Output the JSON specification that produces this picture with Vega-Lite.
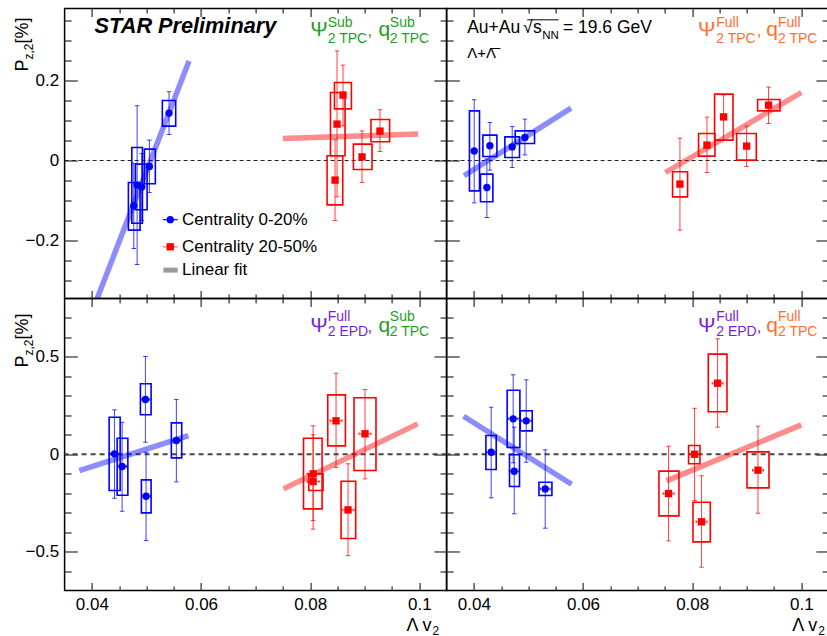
{
"$schema": "https://vega.github.io/schema/vega-lite/v6.json",
"padding": {"left": 12.6, "top": 6.5, "right": 0, "bottom": 0},
"config": {"font": "Liberation Sans", "view": {"stroke": "black", "strokeWidth": 1.5}, "legend": {"disable": true},
  "axis": {"disable": true, "grid": false, "domain": false, "tickColor": "black", "tickWidth": 1, "labelFont": "Liberation Sans", "labelFontSize": 17, "labelColor": "black"}},
"datasets": {
"pts": [
{"p":"TL","cent":"0-20%","x":0.04768,"y":-0.113,"ylo":-0.22,"yhi":-0.007,"slo":-0.174,"shi":-0.055,"bx0":0.04669,"bx1":0.04883},
{"p":"TL","cent":"0-20%","x":0.04829,"y":-0.0615,"ylo":-0.26,"yhi":0.137,"slo":-0.157,"shi":0.0325,"bx0":0.04732,"bx1":0.04926},
{"p":"TL","cent":"0-20%","x":0.04915,"y":-0.066,"ylo":-0.15,"yhi":0.0175,"slo":-0.123,"shi":-0.009,"bx0":0.04798,"bx1":0.05012},
{"p":"TL","cent":"0-20%","x":0.05054,"y":-0.015,"ylo":-0.08,"yhi":0.051,"slo":-0.058,"shi":0.0285,"bx0":0.04962,"bx1":0.05163},
{"p":"TL","cent":"0-20%","x":0.05414,"y":0.1185,"ylo":0.065,"yhi":0.172,"slo":0.086,"shi":0.15,"bx0":0.05291,"bx1":0.05536},
{"p":"TL","cent":"20-50%","x":0.08602,"y":0.1635,"ylo":0.0868,"yhi":0.2385,"slo":0.129,"shi":0.195,"bx0":0.08445,"bx1":0.08756},
{"p":"TL","cent":"20-50%","x":0.08492,"y":0.091,"ylo":-0.091,"yhi":0.274,"slo":0.012,"shi":0.17,"bx0":0.08372,"bx1":0.08639},
{"p":"TL","cent":"20-50%","x":0.08456,"y":-0.049,"ylo":-0.15,"yhi":0.052,"slo":-0.111,"shi":0.012,"bx0":0.0831,"bx1":0.08597},
{"p":"TL","cent":"20-50%","x":0.0895,"y":0.009,"ylo":-0.055,"yhi":0.074,"slo":-0.0225,"shi":0.041,"bx0":0.08792,"bx1":0.09133},
{"p":"TL","cent":"20-50%","x":0.09279,"y":0.0735,"ylo":0.0225,"yhi":0.127,"slo":0.0468,"shi":0.1025,"bx0":0.09114,"bx1":0.09456},
{"p":"TR","cent":"0-20%","x":0.04006,"y":0.024,"ylo":-0.106,"yhi":0.152,"slo":-0.076,"shi":0.124,"bx0":0.03919,"bx1":0.04103},
{"p":"TR","cent":"0-20%","x":0.04238,"y":-0.0675,"ylo":-0.1425,"yhi":0.0035,"slo":-0.103,"shi":-0.034,"bx0":0.04121,"bx1":0.04348},
{"p":"TR","cent":"0-20%","x":0.04293,"y":0.037,"ylo":-0.024,"yhi":0.095,"slo":0.01,"shi":0.0635,"bx0":0.04165,"bx1":0.04422},
{"p":"TR","cent":"0-20%","x":0.04702,"y":0.034,"ylo":-0.0175,"yhi":0.085,"slo":0.0075,"shi":0.059,"bx0":0.04568,"bx1":0.04836},
{"p":"TR","cent":"0-20%","x":0.04935,"y":0.0575,"ylo":0.014,"yhi":0.1035,"slo":0.0425,"shi":0.074,"bx0":0.04757,"bx1":0.05111},
{"p":"TR","cent":"20-50%","x":0.07776,"y":-0.059,"ylo":-0.174,"yhi":0.056,"slo":-0.091,"shi":-0.028,"bx0":0.07641,"bx1":0.07916},
{"p":"TR","cent":"20-50%","x":0.08271,"y":0.0385,"ylo":-0.03,"yhi":0.1085,"slo":0.011,"shi":0.0675,"bx0":0.08117,"bx1":0.08418},
{"p":"TR","cent":"20-50%","x":0.08576,"y":0.109,"ylo":0.051,"yhi":0.164,"slo":0.051,"shi":0.166,"bx0":0.08411,"bx1":0.08748},
{"p":"TR","cent":"20-50%","x":0.08998,"y":0.036,"ylo":-0.015,"yhi":0.086,"slo":0.001,"shi":0.0675,"bx0":0.08814,"bx1":0.09175},
{"p":"TR","cent":"20-50%","x":0.094,"y":0.1385,"ylo":0.0925,"yhi":0.1835,"slo":0.124,"shi":0.1525,"bx0":0.09199,"bx1":0.0961},
{"p":"BL","cent":"0-20%","x":0.04413,"y":0.002,"ylo":-0.226,"yhi":0.228,"slo":-0.1865,"shi":0.19,"bx0":0.04316,"bx1":0.04518,"xlo":0.04333,"xhi":0.04493},
{"p":"BL","cent":"0-20%","x":0.04554,"y":-0.063,"ylo":-0.293,"yhi":0.164,"slo":-0.211,"shi":0.082,"bx0":0.04463,"bx1":0.04659,"xlo":0.04474,"xhi":0.04634},
{"p":"BL","cent":"0-20%","x":0.04981,"y":0.281,"ylo":0.0617,"yhi":0.502,"slo":0.2025,"shi":0.362,"bx0":0.04889,"bx1":0.05085,"xlo":0.04901,"xhi":0.05061},
{"p":"BL","cent":"0-20%","x":0.04993,"y":-0.216,"ylo":-0.4435,"yhi":0.01,"slo":-0.301,"shi":-0.1316,"bx0":0.04907,"bx1":0.05085,"xlo":0.04913,"xhi":0.05073},
{"p":"BL","cent":"0-20%","x":0.05548,"y":0.0704,"ylo":-0.142,"yhi":0.281,"slo":-0.0185,"shi":0.161,"bx0":0.05456,"bx1":0.05646,"xlo":0.05468,"xhi":0.05628},
{"p":"BL","cent":"20-50%","x":0.08054,"y":-0.1007,"ylo":-0.341,"yhi":0.1,"slo":-0.2806,"shi":0.082,"bx0":0.07878,"bx1":0.08218,"xlo":0.07944,"xhi":0.08164},
{"p":"BL","cent":"20-50%","x":0.08054,"y":-0.14,"ylo":-0.385,"yhi":0.146,"slo":-0.1865,"shi":-0.1007,"bx0":0.07975,"bx1":0.08236,"xlo":0.07944,"xhi":0.08164},
{"p":"BL","cent":"20-50%","x":0.08474,"y":0.1716,"ylo":-0.068,"yhi":0.416,"slo":0.043,"shi":0.305,"bx0":0.08322,"bx1":0.08646,"xlo":0.08364,"xhi":0.08584},
{"p":"BL","cent":"20-50%","x":0.08694,"y":-0.286,"ylo":-0.521,"yhi":-0.049,"slo":-0.433,"shi":-0.139,"bx0":0.08566,"bx1":0.08834,"xlo":0.08584,"xhi":0.08804},
{"p":"BL","cent":"20-50%","x":0.09005,"y":0.105,"ylo":-0.1264,"yhi":0.3325,"slo":-0.0838,"shi":0.29,"bx0":0.08803,"bx1":0.09206,"xlo":0.08895,"xhi":0.09115},
{"p":"BR","cent":"0-20%","x":0.04317,"y":0.0103,"ylo":-0.224,"yhi":0.2415,"slo":-0.0786,"shi":0.096,"bx0":0.0422,"bx1":0.04409,"xlo":0.04227,"xhi":0.04407},
{"p":"BR","cent":"0-20%","x":0.0472,"y":0.182,"ylo":-0.044,"yhi":0.408,"slo":0.0344,"shi":0.329,"bx0":0.0461,"bx1":0.04843,"xlo":0.0463,"xhi":0.0481},
{"p":"BR","cent":"0-20%","x":0.04739,"y":-0.0874,"ylo":-0.306,"yhi":0.139,"slo":-0.166,"shi":-0.003,"bx0":0.04653,"bx1":0.04836,"xlo":0.04649,"xhi":0.04829},
{"p":"BR","cent":"0-20%","x":0.04959,"y":0.1716,"ylo":-0.041,"yhi":0.382,"slo":0.12,"shi":0.223,"bx0":0.04849,"bx1":0.05069,"xlo":0.04869,"xhi":0.05049},
{"p":"BR","cent":"0-20%","x":0.05307,"y":-0.178,"ylo":-0.38,"yhi":0.0226,"slo":-0.212,"shi":-0.144,"bx0":0.05192,"bx1":0.0543,"xlo":0.05217,"xhi":0.05397},
{"p":"BR","cent":"20-50%","x":0.07567,"y":-0.202,"ylo":-0.445,"yhi":0.041,"slo":-0.3166,"shi":-0.087,"bx0":0.07391,"bx1":0.07758,"xlo":0.07467,"xhi":0.07667},
{"p":"BR","cent":"20-50%","x":0.08044,"y":0.0,"ylo":-0.238,"yhi":0.236,"slo":-0.049,"shi":0.0447,"bx0":0.07934,"bx1":0.08143,"xlo":0.07944,"xhi":0.08144},
{"p":"BR","cent":"20-50%","x":0.08172,"y":-0.347,"ylo":-0.58,"yhi":-0.111,"slo":-0.45,"shi":-0.2467,"bx0":0.08015,"bx1":0.08332,"xlo":0.08072,"xhi":0.08272},
{"p":"BR","cent":"20-50%","x":0.08466,"y":0.365,"ylo":0.139,"yhi":0.593,"slo":0.218,"shi":0.514,"bx0":0.08295,"bx1":0.08638,"xlo":0.08366,"xhi":0.08566},
{"p":"BR","cent":"20-50%","x":0.09206,"y":-0.082,"ylo":-0.303,"yhi":0.144,"slo":-0.1727,"shi":0.0123,"bx0":0.09005,"bx1":0.09408,"xlo":0.09106,"xhi":0.09306}
],
"fits": [
{"p":"TL","cent":"0-20%","x":0.0378,"y":-0.457},{"p":"TL","cent":"0-20%","x":0.0578,"y":0.249},
{"p":"TL","cent":"20-50%","x":0.075,"y":0.055},{"p":"TL","cent":"20-50%","x":0.0998,"y":0.066},
{"p":"TR","cent":"0-20%","x":0.0382,"y":-0.038},{"p":"TR","cent":"0-20%","x":0.0578,"y":0.131},
{"p":"TR","cent":"20-50%","x":0.0751,"y":-0.03},{"p":"TR","cent":"20-50%","x":0.1,"y":0.17},
{"p":"BL","cent":"0-20%","x":0.0377,"y":-0.084},{"p":"BL","cent":"0-20%","x":0.0577,"y":0.096},
{"p":"BL","cent":"20-50%","x":0.0751,"y":-0.178},{"p":"BL","cent":"20-50%","x":0.0997,"y":0.156},
{"p":"BR","cent":"0-20%","x":0.0381,"y":0.195},{"p":"BR","cent":"0-20%","x":0.0579,"y":-0.154},
{"p":"BR","cent":"20-50%","x":0.0753,"y":-0.137},{"p":"BR","cent":"20-50%","x":0.1,"y":0.151}
]
},
"columns": 2,
"spacing": 0,
"bounds": "flush",
"concat": [
{"width": 382, "height": 290,
 "resolve": {"axis": {"x": "independent", "y": "independent"}},
 "layer": [
  {"data": {"values": [{}]}, "mark": {"type": "rule", "color": "#222", "strokeWidth": 1.2, "strokeDash": [4, 3]}, "encoding": {"y": {"datum": 0, "type": "quantitative"}}},
  {"data": {"name": "pts"}, "transform": [{"filter": "datum.p === 'TL'"}], "mark": {"type": "rect", "filled": false, "strokeWidth": 1.6},
   "encoding": {"x": {"field": "bx0", "type": "quantitative", "scale": {"domain": [0.035, 0.105], "nice": false}, "axis": {"orient": "top", "values": [0.045,0.05,0.055,0.065,0.07,0.075,0.085,0.09,0.095], "labels": false, "tickSize": -4.5, "title": null}}, "x2": {"field": "bx1"},
    "y": {"field": "slo", "type": "quantitative", "scale": {"domain": [-0.345, 0.38], "nice": false}, "axis": {"orient": "right", "values": [-0.3,-0.25,-0.15,-0.1,-0.05,0.05,0.1,0.15,0.25,0.3,0.35], "labels": false, "tickSize": -6.5, "title": null}}, "y2": {"field": "shi"},
    "color": {"field": "cent", "type": "nominal", "scale": {"domain": ["0-20%", "20-50%"], "range": ["#0000ff", "#ff0000"]}, "legend": null}}},
  {"data": {"name": "pts"}, "transform": [{"filter": "datum.p === 'TL'"}], "mark": {"type": "rule", "strokeWidth": 1, "opacity": 0.75},
   "encoding": {"x": {"field": "x", "type": "quantitative", "scale": {"domain": [0.035, 0.105], "nice": false}, "axis": {"orient": "bottom", "values": [0.04,0.06,0.08,0.1], "labels": false, "tickSize": -8, "title": null}},
    "y": {"field": "ylo", "type": "quantitative", "scale": {"domain": [-0.345, 0.38], "nice": false}, "axis": {"orient": "left", "values": [-0.2,0,0.2], "labels": false, "tickSize": -12.7, "title": null}}, "y2": {"field": "yhi"},
    "color": {"field": "cent", "type": "nominal", "legend": null}}},
  {"data": {"name": "pts"}, "transform": [{"filter": "datum.p === 'TL'"}], "mark": {"type": "tick", "orient": "horizontal", "size": 4.5, "thickness": 1, "opacity": 0.75},
   "encoding": {"x": {"field": "x", "type": "quantitative", "scale": {"domain": [0.035, 0.105], "nice": false}, "axis": {"orient": "bottom", "values": [0.045,0.05,0.055,0.065,0.07,0.075,0.085,0.09,0.095], "labels": false, "tickSize": -4.5, "title": null}},
    "y": {"field": "ylo", "type": "quantitative", "scale": {"domain": [-0.345, 0.38], "nice": false}, "axis": {"orient": "left", "values": [-0.3,-0.25,-0.15,-0.1,-0.05,0.05,0.1,0.15,0.25,0.3,0.35], "labels": false, "tickSize": -6.5, "title": null}},
    "color": {"field": "cent", "type": "nominal", "legend": null}}},
  {"data": {"name": "pts"}, "transform": [{"filter": "datum.p === 'TL'"}], "mark": {"type": "tick", "orient": "horizontal", "size": 4.5, "thickness": 1, "opacity": 0.75},
   "encoding": {"x": {"field": "x", "type": "quantitative", "scale": {"domain": [0.035, 0.105], "nice": false}, "axis": {"orient": "top", "values": [0.04,0.06,0.08,0.1], "labels": false, "tickSize": -8, "title": null}},
    "y": {"field": "yhi", "type": "quantitative", "scale": {"domain": [-0.345, 0.38], "nice": false}, "axis": {"orient": "right", "values": [-0.2,0,0.2], "labels": false, "tickSize": -12.7, "title": null}},
    "color": {"field": "cent", "type": "nominal", "legend": null}}},
  {"data": {"name": "pts"}, "transform": [{"filter": "datum.p === 'TL'"}], "mark": {"type": "point", "filled": true, "size": 54, "opacity": 1},
   "encoding": {"x": {"field": "x", "type": "quantitative", "scale": {"domain": [0.035, 0.105], "nice": false}, "axis": null},
    "y": {"field": "y", "type": "quantitative", "scale": {"domain": [-0.345, 0.38], "nice": false}, "axis": {"orient": "left", "values": [-0.2,0,0.2], "format": ".1~f", "ticks": false, "labelPadding": 6, "labelOverlap": false, "labelFlush": false, "title": null}},
    "color": {"field": "cent", "type": "nominal", "legend": null},
    "shape": {"field": "cent", "type": "nominal", "scale": {"domain": ["0-20%", "20-50%"], "range": ["circle", "square"]}, "legend": null}}},
  {"data": {"name": "fits"}, "transform": [{"filter": "datum.p === 'TL'"}], "mark": {"type": "line", "strokeWidth": 5.5, "opacity": 0.45, "clip": true, "strokeCap": "butt"},
   "encoding": {"x": {"field": "x", "type": "quantitative", "scale": {"domain": [0.035, 0.105], "nice": false}, "axis": null},
    "y": {"field": "y", "type": "quantitative", "scale": {"domain": [-0.345, 0.38], "nice": false}, "axis": null},
    "color": {"field": "cent", "type": "nominal", "legend": null}}},
  {"data": {"values": [{}]}, "mark": {"type": "text", "text": "STAR Preliminary", "fontSize": 21.7, "fontWeight": "bold", "fontStyle": "italic", "align": "left", "baseline": "alphabetic", "color": "black"}, "encoding": {"x": {"datum": 0.0405, "type": "quantitative"}, "y": {"datum": 0.3185, "type": "quantitative"}}},
  {"data": {"values": [{}]}, "mark": {"type": "text", "text": "Ψ", "fontSize": 21, "align": "left", "baseline": "alphabetic", "color": "#1e9e1e"}, "encoding": {"x": {"datum": 0.08, "type": "quantitative"}, "y": {"datum": 0.3118, "type": "quantitative"}}},
  {"data": {"values": [{}]}, "mark": {"type": "text", "text": "Sub", "fontSize": 14, "align": "left", "baseline": "alphabetic", "color": "#1e9e1e"}, "encoding": {"x": {"datum": 0.08322, "type": "quantitative"}, "y": {"datum": 0.335, "type": "quantitative"}}},
  {"data": {"values": [{}]}, "mark": {"type": "text", "text": "2 TPC", "fontSize": 14, "align": "left", "baseline": "alphabetic", "color": "#1e9e1e"}, "encoding": {"x": {"datum": 0.08322, "type": "quantitative"}, "y": {"datum": 0.295, "type": "quantitative"}}},
  {"data": {"values": [{}]}, "mark": {"type": "text", "text": ",", "fontSize": 17, "align": "left", "baseline": "alphabetic", "color": "#1e9e1e"}, "encoding": {"x": {"datum": 0.0905, "type": "quantitative"}, "y": {"datum": 0.3118, "type": "quantitative"}}},
  {"data": {"values": [{}]}, "mark": {"type": "text", "text": "q", "fontSize": 21, "align": "left", "baseline": "alphabetic", "color": "#1e9e1e"}, "encoding": {"x": {"datum": 0.0925, "type": "quantitative"}, "y": {"datum": 0.3118, "type": "quantitative"}}},
  {"data": {"values": [{}]}, "mark": {"type": "text", "text": "Sub", "fontSize": 14, "align": "left", "baseline": "alphabetic", "color": "#1e9e1e"}, "encoding": {"x": {"datum": 0.0946, "type": "quantitative"}, "y": {"datum": 0.335, "type": "quantitative"}}},
  {"data": {"values": [{}]}, "mark": {"type": "text", "text": "2 TPC", "fontSize": 14, "align": "left", "baseline": "alphabetic", "color": "#1e9e1e"}, "encoding": {"x": {"datum": 0.0946, "type": "quantitative"}, "y": {"datum": 0.295, "type": "quantitative"}}},
  {"data": {"values": [{}]}, "mark": {"type": "rule", "color": "#0000ff", "strokeWidth": 1.2}, "encoding": {"x": {"datum": 0.05299, "type": "quantitative"}, "x2": {"datum": 0.05573}, "y": {"datum": -0.148, "type": "quantitative"}}},
  {"data": {"values": [{}]}, "mark": {"type": "point", "shape": "circle", "filled": true, "size": 54, "opacity": 1, "color": "#0000ff"}, "encoding": {"x": {"datum": 0.05436, "type": "quantitative"}, "y": {"datum": -0.148, "type": "quantitative"}}},
  {"data": {"values": [{}]}, "mark": {"type": "text", "text": "Centrality 0-20%", "fontSize": 17, "align": "left", "baseline": "middle", "color": "black"}, "encoding": {"x": {"datum": 0.05652, "type": "quantitative"}, "y": {"datum": -0.148, "type": "quantitative"}}},
  {"data": {"values": [{}]}, "mark": {"type": "rule", "color": "#ff0000", "strokeWidth": 1.2, "opacity": 0.6}, "encoding": {"x": {"datum": 0.05299, "type": "quantitative"}, "x2": {"datum": 0.05573}, "y": {"datum": -0.2158, "type": "quantitative"}}},
  {"data": {"values": [{}]}, "mark": {"type": "point", "shape": "square", "filled": true, "size": 54, "opacity": 1, "color": "#ff0000"}, "encoding": {"x": {"datum": 0.05436, "type": "quantitative"}, "y": {"datum": -0.2158, "type": "quantitative"}}},
  {"data": {"values": [{}]}, "mark": {"type": "text", "text": "Centrality 20-50%", "fontSize": 17, "align": "left", "baseline": "middle", "color": "black"}, "encoding": {"x": {"datum": 0.05652, "type": "quantitative"}, "y": {"datum": -0.2158, "type": "quantitative"}}},
  {"data": {"values": [{}]}, "mark": {"type": "rule", "color": "#999999", "strokeWidth": 5, "strokeCap": "butt"}, "encoding": {"x": {"datum": 0.05310, "type": "quantitative"}, "x2": {"datum": 0.05573}, "y": {"datum": -0.274, "type": "quantitative"}}},
  {"data": {"values": [{}]}, "mark": {"type": "text", "text": "Linear fit", "fontSize": 17, "align": "left", "baseline": "middle", "color": "black"}, "encoding": {"x": {"datum": 0.05652, "type": "quantitative"}, "y": {"datum": -0.274, "type": "quantitative"}}},
  {"data": {"values": [{}]}, "mark": {"type": "text", "text": "P", "fontSize": 18, "angle": 270, "align": "left", "baseline": "alphabetic", "color": "black"}, "encoding": {"x": {"datum": 0.02835, "type": "quantitative"}, "y": {"datum": 0.2225, "type": "quantitative"}}},
  {"data": {"values": [{}]}, "mark": {"type": "text", "text": "z,2", "fontSize": 12, "angle": 270, "align": "left", "baseline": "alphabetic", "color": "black"}, "encoding": {"x": {"datum": 0.02926, "type": "quantitative"}, "y": {"datum": 0.2525, "type": "quantitative"}}},
  {"data": {"values": [{}]}, "mark": {"type": "text", "text": " [%]", "fontSize": 18, "angle": 270, "align": "left", "baseline": "alphabetic", "color": "black"}, "encoding": {"x": {"datum": 0.02835, "type": "quantitative"}, "y": {"datum": 0.2925, "type": "quantitative"}}}
 ]},
{"width": 382, "height": 290,
 "resolve": {"axis": {"x": "independent", "y": "independent"}},
 "layer": [
  {"data": {"values": [{}]}, "mark": {"type": "rule", "color": "#222", "strokeWidth": 1.2, "strokeDash": [4, 3]}, "encoding": {"y": {"datum": 0, "type": "quantitative"}}},
  {"data": {"name": "pts"}, "transform": [{"filter": "datum.p === 'TR'"}], "mark": {"type": "rect", "filled": false, "strokeWidth": 1.6},
   "encoding": {"x": {"field": "bx0", "type": "quantitative", "scale": {"domain": [0.035, 0.105], "nice": false}, "axis": {"orient": "top", "values": [0.045,0.05,0.055,0.065,0.07,0.075,0.085,0.09,0.095], "labels": false, "tickSize": -4.5, "title": null}}, "x2": {"field": "bx1"},
    "y": {"field": "slo", "type": "quantitative", "scale": {"domain": [-0.345, 0.38], "nice": false}, "axis": {"orient": "right", "values": [-0.3,-0.25,-0.15,-0.1,-0.05,0.05,0.1,0.15,0.25,0.3,0.35], "labels": false, "tickSize": -6.5, "title": null}}, "y2": {"field": "shi"},
    "color": {"field": "cent", "type": "nominal", "scale": {"domain": ["0-20%", "20-50%"], "range": ["#0000ff", "#ff0000"]}, "legend": null}}},
  {"data": {"name": "pts"}, "transform": [{"filter": "datum.p === 'TR'"}], "mark": {"type": "rule", "strokeWidth": 1, "opacity": 0.75},
   "encoding": {"x": {"field": "x", "type": "quantitative", "scale": {"domain": [0.035, 0.105], "nice": false}, "axis": {"orient": "bottom", "values": [0.04,0.06,0.08,0.1], "labels": false, "tickSize": -8, "title": null}},
    "y": {"field": "ylo", "type": "quantitative", "scale": {"domain": [-0.345, 0.38], "nice": false}, "axis": {"orient": "left", "values": [-0.2,0,0.2], "labels": false, "tickSize": -12.7, "title": null}}, "y2": {"field": "yhi"},
    "color": {"field": "cent", "type": "nominal", "legend": null}}},
  {"data": {"name": "pts"}, "transform": [{"filter": "datum.p === 'TR'"}], "mark": {"type": "tick", "orient": "horizontal", "size": 4.5, "thickness": 1, "opacity": 0.75},
   "encoding": {"x": {"field": "x", "type": "quantitative", "scale": {"domain": [0.035, 0.105], "nice": false}, "axis": {"orient": "bottom", "values": [0.045,0.05,0.055,0.065,0.07,0.075,0.085,0.09,0.095], "labels": false, "tickSize": -4.5, "title": null}},
    "y": {"field": "ylo", "type": "quantitative", "scale": {"domain": [-0.345, 0.38], "nice": false}, "axis": {"orient": "left", "values": [-0.3,-0.25,-0.15,-0.1,-0.05,0.05,0.1,0.15,0.25,0.3,0.35], "labels": false, "tickSize": -6.5, "title": null}},
    "color": {"field": "cent", "type": "nominal", "legend": null}}},
  {"data": {"name": "pts"}, "transform": [{"filter": "datum.p === 'TR'"}], "mark": {"type": "tick", "orient": "horizontal", "size": 4.5, "thickness": 1, "opacity": 0.75},
   "encoding": {"x": {"field": "x", "type": "quantitative", "scale": {"domain": [0.035, 0.105], "nice": false}, "axis": {"orient": "top", "values": [0.04,0.06,0.08,0.1], "labels": false, "tickSize": -8, "title": null}},
    "y": {"field": "yhi", "type": "quantitative", "scale": {"domain": [-0.345, 0.38], "nice": false}, "axis": {"orient": "right", "values": [-0.2,0,0.2], "labels": false, "tickSize": -12.7, "title": null}},
    "color": {"field": "cent", "type": "nominal", "legend": null}}},
  {"data": {"name": "pts"}, "transform": [{"filter": "datum.p === 'TR'"}], "mark": {"type": "point", "filled": true, "size": 54, "opacity": 1},
   "encoding": {"x": {"field": "x", "type": "quantitative", "scale": {"domain": [0.035, 0.105], "nice": false}, "axis": null},
    "y": {"field": "y", "type": "quantitative", "scale": {"domain": [-0.345, 0.38], "nice": false}, "axis": null},
    "color": {"field": "cent", "type": "nominal", "legend": null},
    "shape": {"field": "cent", "type": "nominal", "scale": {"domain": ["0-20%", "20-50%"], "range": ["circle", "square"]}, "legend": null}}},
  {"data": {"name": "fits"}, "transform": [{"filter": "datum.p === 'TR'"}], "mark": {"type": "line", "strokeWidth": 5.5, "opacity": 0.45, "clip": true, "strokeCap": "butt"},
   "encoding": {"x": {"field": "x", "type": "quantitative", "scale": {"domain": [0.035, 0.105], "nice": false}, "axis": null},
    "y": {"field": "y", "type": "quantitative", "scale": {"domain": [-0.345, 0.38], "nice": false}, "axis": null},
    "color": {"field": "cent", "type": "nominal", "legend": null}}},
  {"data": {"values": [{}]}, "mark": {"type": "text", "text": "Au+Au", "fontSize": 17.5, "align": "left", "baseline": "alphabetic", "color": "black"}, "encoding": {"x": {"datum": 0.03877, "type": "quantitative"}, "y": {"datum": 0.3185, "type": "quantitative"}}},
  {"data": {"values": [{}]}, "mark": {"type": "text", "text": "√", "fontSize": 17.5, "align": "left", "baseline": "alphabetic", "color": "black"}, "encoding": {"x": {"datum": 0.04898, "type": "quantitative"}, "y": {"datum": 0.3185, "type": "quantitative"}}},
  {"data": {"values": [{}]}, "mark": {"type": "rule", "color": "black", "strokeWidth": 1}, "encoding": {"x": {"datum": 0.04977, "type": "quantitative"}, "x2": {"datum": 0.05551}, "y": {"datum": 0.3517, "type": "quantitative"}}},
  {"data": {"values": [{}]}, "mark": {"type": "text", "text": "s", "fontSize": 17.5, "align": "left", "baseline": "alphabetic", "color": "black"}, "encoding": {"x": {"datum": 0.05082, "type": "quantitative"}, "y": {"datum": 0.3185, "type": "quantitative"}}},
  {"data": {"values": [{}]}, "mark": {"type": "text", "text": "NN", "fontSize": 11.5, "align": "left", "baseline": "alphabetic", "color": "black"}, "encoding": {"x": {"datum": 0.05252, "type": "quantitative"}, "y": {"datum": 0.3035, "type": "quantitative"}}},
  {"data": {"values": [{}]}, "mark": {"type": "text", "text": "= 19.6 GeV", "fontSize": 17.5, "align": "left", "baseline": "alphabetic", "color": "black"}, "encoding": {"x": {"datum": 0.05632, "type": "quantitative"}, "y": {"datum": 0.3185, "type": "quantitative"}}},
  {"data": {"values": [{}]}, "mark": {"type": "text", "text": "Λ+Λ", "fontSize": 15, "align": "left", "baseline": "alphabetic", "color": "black"}, "encoding": {"x": {"datum": 0.03877, "type": "quantitative"}, "y": {"datum": 0.256, "type": "quantitative"}}},
  {"data": {"values": [{}]}, "mark": {"type": "rule", "color": "black", "strokeWidth": 1}, "encoding": {"x": {"datum": 0.04304, "type": "quantitative"}, "x2": {"datum": 0.04487}, "y": {"datum": 0.28, "type": "quantitative"}}},
  {"data": {"values": [{}]}, "mark": {"type": "text", "text": "Ψ", "fontSize": 21, "align": "left", "baseline": "alphabetic", "color": "#ff7030"}, "encoding": {"x": {"datum": 0.08106, "type": "quantitative"}, "y": {"datum": 0.3118, "type": "quantitative"}}},
  {"data": {"values": [{}]}, "mark": {"type": "text", "text": "Full", "fontSize": 14, "align": "left", "baseline": "alphabetic", "color": "#ff7030"}, "encoding": {"x": {"datum": 0.08442, "type": "quantitative"}, "y": {"datum": 0.335, "type": "quantitative"}}},
  {"data": {"values": [{}]}, "mark": {"type": "text", "text": "2 TPC", "fontSize": 14, "align": "left", "baseline": "alphabetic", "color": "#ff7030"}, "encoding": {"x": {"datum": 0.08442, "type": "quantitative"}, "y": {"datum": 0.295, "type": "quantitative"}}},
  {"data": {"values": [{}]}, "mark": {"type": "text", "text": ",", "fontSize": 17, "align": "left", "baseline": "alphabetic", "color": "#ff7030"}, "encoding": {"x": {"datum": 0.09184, "type": "quantitative"}, "y": {"datum": 0.3118, "type": "quantitative"}}},
  {"data": {"values": [{}]}, "mark": {"type": "text", "text": "q", "fontSize": 21, "align": "left", "baseline": "alphabetic", "color": "#ff7030"}, "encoding": {"x": {"datum": 0.09358, "type": "quantitative"}, "y": {"datum": 0.3118, "type": "quantitative"}}},
  {"data": {"values": [{}]}, "mark": {"type": "text", "text": "Full", "fontSize": 14, "align": "left", "baseline": "alphabetic", "color": "#ff7030"}, "encoding": {"x": {"datum": 0.09573, "type": "quantitative"}, "y": {"datum": 0.335, "type": "quantitative"}}},
  {"data": {"values": [{}]}, "mark": {"type": "text", "text": "2 TPC", "fontSize": 14, "align": "left", "baseline": "alphabetic", "color": "#ff7030"}, "encoding": {"x": {"datum": 0.09573, "type": "quantitative"}, "y": {"datum": 0.295, "type": "quantitative"}}}
 ]},
{"width": 382, "height": 292,
 "resolve": {"axis": {"x": "independent", "y": "independent"}},
 "layer": [
  {"data": {"values": [{}]}, "mark": {"type": "rule", "color": "#444", "strokeWidth": 1.8, "strokeDash": [5, 4]}, "encoding": {"y": {"datum": 0, "type": "quantitative"}}},
  {"data": {"name": "pts"}, "transform": [{"filter": "datum.p === 'BL'"}], "mark": {"type": "rect", "filled": false, "strokeWidth": 1.6},
   "encoding": {"x": {"field": "bx0", "type": "quantitative", "scale": {"domain": [0.035, 0.105], "nice": false}, "axis": {"orient": "top", "values": [0.045,0.05,0.055,0.065,0.07,0.075,0.085,0.09,0.095], "labels": false, "tickSize": -4.5, "title": null}}, "x2": {"field": "bx1"},
    "y": {"field": "slo", "type": "quantitative", "scale": {"domain": [-0.7, 0.8], "nice": false}, "axis": {"orient": "right", "values": [-0.6,-0.4,-0.3,-0.2,-0.1,0.1,0.2,0.3,0.4,0.6,0.7], "labels": false, "tickSize": -6.5, "title": null}}, "y2": {"field": "shi"},
    "color": {"field": "cent", "type": "nominal", "scale": {"domain": ["0-20%", "20-50%"], "range": ["#0000ff", "#ff0000"]}, "legend": null}}},
  {"data": {"name": "pts"}, "transform": [{"filter": "datum.p === 'BL'"}], "mark": {"type": "rule", "strokeWidth": 1, "opacity": 0.75},
   "encoding": {"x": {"field": "x", "type": "quantitative", "scale": {"domain": [0.035, 0.105], "nice": false}, "axis": {"orient": "bottom", "values": [0.04,0.06,0.08,0.1], "labels": false, "tickSize": -8, "title": null}},
    "y": {"field": "ylo", "type": "quantitative", "scale": {"domain": [-0.7, 0.8], "nice": false}, "axis": {"orient": "left", "values": [-0.5,0,0.5], "labels": false, "tickSize": -12.7, "title": null}}, "y2": {"field": "yhi"},
    "color": {"field": "cent", "type": "nominal", "legend": null}}},
  {"data": {"name": "pts"}, "transform": [{"filter": "datum.p === 'BL'"}], "mark": {"type": "tick", "orient": "horizontal", "size": 4.5, "thickness": 1, "opacity": 0.75},
   "encoding": {"x": {"field": "x", "type": "quantitative", "scale": {"domain": [0.035, 0.105], "nice": false}, "axis": {"orient": "bottom", "values": [0.045,0.05,0.055,0.065,0.07,0.075,0.085,0.09,0.095], "labels": false, "tickSize": -4.5, "title": null}},
    "y": {"field": "ylo", "type": "quantitative", "scale": {"domain": [-0.7, 0.8], "nice": false}, "axis": {"orient": "left", "values": [-0.6,-0.4,-0.3,-0.2,-0.1,0.1,0.2,0.3,0.4,0.6,0.7], "labels": false, "tickSize": -6.5, "title": null}},
    "color": {"field": "cent", "type": "nominal", "legend": null}}},
  {"data": {"name": "pts"}, "transform": [{"filter": "datum.p === 'BL'"}], "mark": {"type": "tick", "orient": "horizontal", "size": 4.5, "thickness": 1, "opacity": 0.75},
   "encoding": {"x": {"field": "x", "type": "quantitative", "scale": {"domain": [0.035, 0.105], "nice": false}, "axis": {"orient": "top", "values": [0.04,0.06,0.08,0.1], "labels": false, "tickSize": -8, "title": null}},
    "y": {"field": "yhi", "type": "quantitative", "scale": {"domain": [-0.7, 0.8], "nice": false}, "axis": {"orient": "right", "values": [-0.5,0,0.5], "labels": false, "tickSize": -12.7, "title": null}},
    "color": {"field": "cent", "type": "nominal", "legend": null}}},
  {"data": {"name": "pts"}, "transform": [{"filter": "datum.p === 'BL'"}], "mark": {"type": "rule", "strokeWidth": 1, "opacity": 0.8},
   "encoding": {"x": {"field": "xlo", "type": "quantitative", "scale": {"domain": [0.035, 0.105], "nice": false}, "axis": null}, "x2": {"field": "xhi"},
    "y": {"field": "y", "type": "quantitative", "scale": {"domain": [-0.7, 0.8], "nice": false}, "axis": null},
    "color": {"field": "cent", "type": "nominal", "legend": null}}},
  {"data": {"name": "pts"}, "transform": [{"filter": "datum.p === 'BL'"}], "mark": {"type": "tick", "orient": "vertical", "size": 3, "thickness": 1, "opacity": 0.8},
   "encoding": {"x": {"field": "xlo", "type": "quantitative", "scale": {"domain": [0.035, 0.105], "nice": false}, "axis": null},
    "y": {"field": "y", "type": "quantitative", "scale": {"domain": [-0.7, 0.8], "nice": false}, "axis": null},
    "color": {"field": "cent", "type": "nominal", "legend": null}}},
  {"data": {"name": "pts"}, "transform": [{"filter": "datum.p === 'BL'"}], "mark": {"type": "tick", "orient": "vertical", "size": 3, "thickness": 1, "opacity": 0.8},
   "encoding": {"x": {"field": "xhi", "type": "quantitative", "scale": {"domain": [0.035, 0.105], "nice": false}, "axis": null},
    "y": {"field": "y", "type": "quantitative", "scale": {"domain": [-0.7, 0.8], "nice": false}, "axis": null},
    "color": {"field": "cent", "type": "nominal", "legend": null}}},
  {"data": {"name": "pts"}, "transform": [{"filter": "datum.p === 'BL'"}], "mark": {"type": "point", "filled": true, "size": 54, "opacity": 1},
   "encoding": {"x": {"field": "x", "type": "quantitative", "scale": {"domain": [0.035, 0.105], "nice": false}, "axis": {"orient": "bottom", "values": [0.04,0.06,0.08,0.1], "format": ".2~f", "ticks": false, "labelPadding": 6, "labelOverlap": false, "labelFlush": false, "title": null}},
    "y": {"field": "y", "type": "quantitative", "scale": {"domain": [-0.7, 0.8], "nice": false}, "axis": {"orient": "left", "values": [-0.5,0,0.5], "format": ".1~f", "ticks": false, "labelPadding": 6, "labelOverlap": false, "labelFlush": false, "title": null}},
    "color": {"field": "cent", "type": "nominal", "legend": null},
    "shape": {"field": "cent", "type": "nominal", "scale": {"domain": ["0-20%", "20-50%"], "range": ["circle", "square"]}, "legend": null}}},
  {"data": {"name": "fits"}, "transform": [{"filter": "datum.p === 'BL'"}], "mark": {"type": "line", "strokeWidth": 5.5, "opacity": 0.45, "clip": true, "strokeCap": "butt"},
   "encoding": {"x": {"field": "x", "type": "quantitative", "scale": {"domain": [0.035, 0.105], "nice": false}, "axis": null},
    "y": {"field": "y", "type": "quantitative", "scale": {"domain": [-0.7, 0.8], "nice": false}, "axis": null},
    "color": {"field": "cent", "type": "nominal", "legend": null}}},
  {"data": {"values": [{}]}, "mark": {"type": "text", "text": "Ψ", "fontSize": 21, "align": "left", "baseline": "alphabetic", "color": "#7a1fd6"}, "encoding": {"x": {"datum": 0.08, "type": "quantitative"}, "y": {"datum": 0.628, "type": "quantitative"}}},
  {"data": {"values": [{}]}, "mark": {"type": "text", "text": "Full", "fontSize": 14, "align": "left", "baseline": "alphabetic", "color": "#7a1fd6"}, "encoding": {"x": {"datum": 0.08322, "type": "quantitative"}, "y": {"datum": 0.684, "type": "quantitative"}}},
  {"data": {"values": [{}]}, "mark": {"type": "text", "text": "2 EPD", "fontSize": 14, "align": "left", "baseline": "alphabetic", "color": "#7a1fd6"}, "encoding": {"x": {"datum": 0.08322, "type": "quantitative"}, "y": {"datum": 0.605, "type": "quantitative"}}},
  {"data": {"values": [{}]}, "mark": {"type": "text", "text": ",", "fontSize": 17, "align": "left", "baseline": "alphabetic", "color": "#7a1fd6"}, "encoding": {"x": {"datum": 0.0905, "type": "quantitative"}, "y": {"datum": 0.628, "type": "quantitative"}}},
  {"data": {"values": [{}]}, "mark": {"type": "text", "text": "q", "fontSize": 21, "align": "left", "baseline": "alphabetic", "color": "#1e9e1e"}, "encoding": {"x": {"datum": 0.0925, "type": "quantitative"}, "y": {"datum": 0.628, "type": "quantitative"}}},
  {"data": {"values": [{}]}, "mark": {"type": "text", "text": "Sub", "fontSize": 14, "align": "left", "baseline": "alphabetic", "color": "#1e9e1e"}, "encoding": {"x": {"datum": 0.0946, "type": "quantitative"}, "y": {"datum": 0.684, "type": "quantitative"}}},
  {"data": {"values": [{}]}, "mark": {"type": "text", "text": "2 TPC", "fontSize": 14, "align": "left", "baseline": "alphabetic", "color": "#1e9e1e"}, "encoding": {"x": {"datum": 0.0946, "type": "quantitative"}, "y": {"datum": 0.605, "type": "quantitative"}}},
  {"data": {"values": [{}]}, "mark": {"type": "text", "text": "P", "fontSize": 18, "angle": 270, "align": "left", "baseline": "alphabetic", "color": "black"}, "encoding": {"x": {"datum": 0.02835, "type": "quantitative"}, "y": {"datum": 0.4455, "type": "quantitative"}}},
  {"data": {"values": [{}]}, "mark": {"type": "text", "text": "z,2", "fontSize": 12, "angle": 270, "align": "left", "baseline": "alphabetic", "color": "black"}, "encoding": {"x": {"datum": 0.02926, "type": "quantitative"}, "y": {"datum": 0.5072, "type": "quantitative"}}},
  {"data": {"values": [{}]}, "mark": {"type": "text", "text": " [%]", "fontSize": 18, "angle": 270, "align": "left", "baseline": "alphabetic", "color": "black"}, "encoding": {"x": {"datum": 0.02835, "type": "quantitative"}, "y": {"datum": 0.5894, "type": "quantitative"}}},
  {"data": {"values": [{}]}, "mark": {"type": "text", "text": "Λ v", "fontSize": 18, "align": "right", "baseline": "alphabetic", "color": "black"}, "encoding": {"x": {"datum": 0.10225, "type": "quantitative"}, "y": {"datum": -0.906, "type": "quantitative"}}},
  {"data": {"values": [{}]}, "mark": {"type": "text", "text": "2", "fontSize": 12, "align": "left", "baseline": "alphabetic", "color": "black"}, "encoding": {"x": {"datum": 0.10243, "type": "quantitative"}, "y": {"datum": -0.9265, "type": "quantitative"}}}
 ]},
{"width": 382, "height": 292,
 "resolve": {"axis": {"x": "independent", "y": "independent"}},
 "layer": [
  {"data": {"values": [{}]}, "mark": {"type": "rule", "color": "#444", "strokeWidth": 1.8, "strokeDash": [5, 4]}, "encoding": {"y": {"datum": 0, "type": "quantitative"}}},
  {"data": {"name": "pts"}, "transform": [{"filter": "datum.p === 'BR'"}], "mark": {"type": "rect", "filled": false, "strokeWidth": 1.6},
   "encoding": {"x": {"field": "bx0", "type": "quantitative", "scale": {"domain": [0.035, 0.105], "nice": false}, "axis": {"orient": "top", "values": [0.045,0.05,0.055,0.065,0.07,0.075,0.085,0.09,0.095], "labels": false, "tickSize": -4.5, "title": null}}, "x2": {"field": "bx1"},
    "y": {"field": "slo", "type": "quantitative", "scale": {"domain": [-0.7, 0.8], "nice": false}, "axis": {"orient": "right", "values": [-0.6,-0.4,-0.3,-0.2,-0.1,0.1,0.2,0.3,0.4,0.6,0.7], "labels": false, "tickSize": -6.5, "title": null}}, "y2": {"field": "shi"},
    "color": {"field": "cent", "type": "nominal", "scale": {"domain": ["0-20%", "20-50%"], "range": ["#0000ff", "#ff0000"]}, "legend": null}}},
  {"data": {"name": "pts"}, "transform": [{"filter": "datum.p === 'BR'"}], "mark": {"type": "rule", "strokeWidth": 1, "opacity": 0.75},
   "encoding": {"x": {"field": "x", "type": "quantitative", "scale": {"domain": [0.035, 0.105], "nice": false}, "axis": {"orient": "bottom", "values": [0.04,0.06,0.08,0.1], "labels": false, "tickSize": -8, "title": null}},
    "y": {"field": "ylo", "type": "quantitative", "scale": {"domain": [-0.7, 0.8], "nice": false}, "axis": {"orient": "left", "values": [-0.5,0,0.5], "labels": false, "tickSize": -12.7, "title": null}}, "y2": {"field": "yhi"},
    "color": {"field": "cent", "type": "nominal", "legend": null}}},
  {"data": {"name": "pts"}, "transform": [{"filter": "datum.p === 'BR'"}], "mark": {"type": "tick", "orient": "horizontal", "size": 4.5, "thickness": 1, "opacity": 0.75},
   "encoding": {"x": {"field": "x", "type": "quantitative", "scale": {"domain": [0.035, 0.105], "nice": false}, "axis": {"orient": "bottom", "values": [0.045,0.05,0.055,0.065,0.07,0.075,0.085,0.09,0.095], "labels": false, "tickSize": -4.5, "title": null}},
    "y": {"field": "ylo", "type": "quantitative", "scale": {"domain": [-0.7, 0.8], "nice": false}, "axis": {"orient": "left", "values": [-0.6,-0.4,-0.3,-0.2,-0.1,0.1,0.2,0.3,0.4,0.6,0.7], "labels": false, "tickSize": -6.5, "title": null}},
    "color": {"field": "cent", "type": "nominal", "legend": null}}},
  {"data": {"name": "pts"}, "transform": [{"filter": "datum.p === 'BR'"}], "mark": {"type": "tick", "orient": "horizontal", "size": 4.5, "thickness": 1, "opacity": 0.75},
   "encoding": {"x": {"field": "x", "type": "quantitative", "scale": {"domain": [0.035, 0.105], "nice": false}, "axis": {"orient": "top", "values": [0.04,0.06,0.08,0.1], "labels": false, "tickSize": -8, "title": null}},
    "y": {"field": "yhi", "type": "quantitative", "scale": {"domain": [-0.7, 0.8], "nice": false}, "axis": {"orient": "right", "values": [-0.5,0,0.5], "labels": false, "tickSize": -12.7, "title": null}},
    "color": {"field": "cent", "type": "nominal", "legend": null}}},
  {"data": {"name": "pts"}, "transform": [{"filter": "datum.p === 'BR'"}], "mark": {"type": "rule", "strokeWidth": 1, "opacity": 0.8},
   "encoding": {"x": {"field": "xlo", "type": "quantitative", "scale": {"domain": [0.035, 0.105], "nice": false}, "axis": null}, "x2": {"field": "xhi"},
    "y": {"field": "y", "type": "quantitative", "scale": {"domain": [-0.7, 0.8], "nice": false}, "axis": null},
    "color": {"field": "cent", "type": "nominal", "legend": null}}},
  {"data": {"name": "pts"}, "transform": [{"filter": "datum.p === 'BR'"}], "mark": {"type": "tick", "orient": "vertical", "size": 3, "thickness": 1, "opacity": 0.8},
   "encoding": {"x": {"field": "xlo", "type": "quantitative", "scale": {"domain": [0.035, 0.105], "nice": false}, "axis": null},
    "y": {"field": "y", "type": "quantitative", "scale": {"domain": [-0.7, 0.8], "nice": false}, "axis": null},
    "color": {"field": "cent", "type": "nominal", "legend": null}}},
  {"data": {"name": "pts"}, "transform": [{"filter": "datum.p === 'BR'"}], "mark": {"type": "tick", "orient": "vertical", "size": 3, "thickness": 1, "opacity": 0.8},
   "encoding": {"x": {"field": "xhi", "type": "quantitative", "scale": {"domain": [0.035, 0.105], "nice": false}, "axis": null},
    "y": {"field": "y", "type": "quantitative", "scale": {"domain": [-0.7, 0.8], "nice": false}, "axis": null},
    "color": {"field": "cent", "type": "nominal", "legend": null}}},
  {"data": {"name": "pts"}, "transform": [{"filter": "datum.p === 'BR'"}], "mark": {"type": "point", "filled": true, "size": 54, "opacity": 1},
   "encoding": {"x": {"field": "x", "type": "quantitative", "scale": {"domain": [0.035, 0.105], "nice": false}, "axis": {"orient": "bottom", "values": [0.04,0.06,0.08,0.1], "format": ".2~f", "ticks": false, "labelPadding": 6, "labelOverlap": false, "labelFlush": false, "title": null}},
    "y": {"field": "y", "type": "quantitative", "scale": {"domain": [-0.7, 0.8], "nice": false}, "axis": null},
    "color": {"field": "cent", "type": "nominal", "legend": null},
    "shape": {"field": "cent", "type": "nominal", "scale": {"domain": ["0-20%", "20-50%"], "range": ["circle", "square"]}, "legend": null}}},
  {"data": {"name": "fits"}, "transform": [{"filter": "datum.p === 'BR'"}], "mark": {"type": "line", "strokeWidth": 5.5, "opacity": 0.45, "clip": true, "strokeCap": "butt"},
   "encoding": {"x": {"field": "x", "type": "quantitative", "scale": {"domain": [0.035, 0.105], "nice": false}, "axis": null},
    "y": {"field": "y", "type": "quantitative", "scale": {"domain": [-0.7, 0.8], "nice": false}, "axis": null},
    "color": {"field": "cent", "type": "nominal", "legend": null}}},
  {"data": {"values": [{}]}, "mark": {"type": "text", "text": "Ψ", "fontSize": 21, "align": "left", "baseline": "alphabetic", "color": "#7a1fd6"}, "encoding": {"x": {"datum": 0.08106, "type": "quantitative"}, "y": {"datum": 0.628, "type": "quantitative"}}},
  {"data": {"values": [{}]}, "mark": {"type": "text", "text": "Full", "fontSize": 14, "align": "left", "baseline": "alphabetic", "color": "#7a1fd6"}, "encoding": {"x": {"datum": 0.08442, "type": "quantitative"}, "y": {"datum": 0.684, "type": "quantitative"}}},
  {"data": {"values": [{}]}, "mark": {"type": "text", "text": "2 EPD", "fontSize": 14, "align": "left", "baseline": "alphabetic", "color": "#7a1fd6"}, "encoding": {"x": {"datum": 0.08442, "type": "quantitative"}, "y": {"datum": 0.605, "type": "quantitative"}}},
  {"data": {"values": [{}]}, "mark": {"type": "text", "text": ",", "fontSize": 17, "align": "left", "baseline": "alphabetic", "color": "#7a1fd6"}, "encoding": {"x": {"datum": 0.09184, "type": "quantitative"}, "y": {"datum": 0.628, "type": "quantitative"}}},
  {"data": {"values": [{}]}, "mark": {"type": "text", "text": "q", "fontSize": 21, "align": "left", "baseline": "alphabetic", "color": "#ff7030"}, "encoding": {"x": {"datum": 0.09358, "type": "quantitative"}, "y": {"datum": 0.628, "type": "quantitative"}}},
  {"data": {"values": [{}]}, "mark": {"type": "text", "text": "Full", "fontSize": 14, "align": "left", "baseline": "alphabetic", "color": "#ff7030"}, "encoding": {"x": {"datum": 0.09573, "type": "quantitative"}, "y": {"datum": 0.684, "type": "quantitative"}}},
  {"data": {"values": [{}]}, "mark": {"type": "text", "text": "2 TPC", "fontSize": 14, "align": "left", "baseline": "alphabetic", "color": "#ff7030"}, "encoding": {"x": {"datum": 0.09573, "type": "quantitative"}, "y": {"datum": 0.605, "type": "quantitative"}}},
  {"data": {"values": [{}]}, "mark": {"type": "text", "text": "Λ v", "fontSize": 18, "align": "right", "baseline": "alphabetic", "color": "black"}, "encoding": {"x": {"datum": 0.10293, "type": "quantitative"}, "y": {"datum": -0.906, "type": "quantitative"}}},
  {"data": {"values": [{}]}, "mark": {"type": "text", "text": "2", "fontSize": 12, "align": "left", "baseline": "alphabetic", "color": "black"}, "encoding": {"x": {"datum": 0.10312, "type": "quantitative"}, "y": {"datum": -0.9265, "type": "quantitative"}}}
 ]}
]
}
